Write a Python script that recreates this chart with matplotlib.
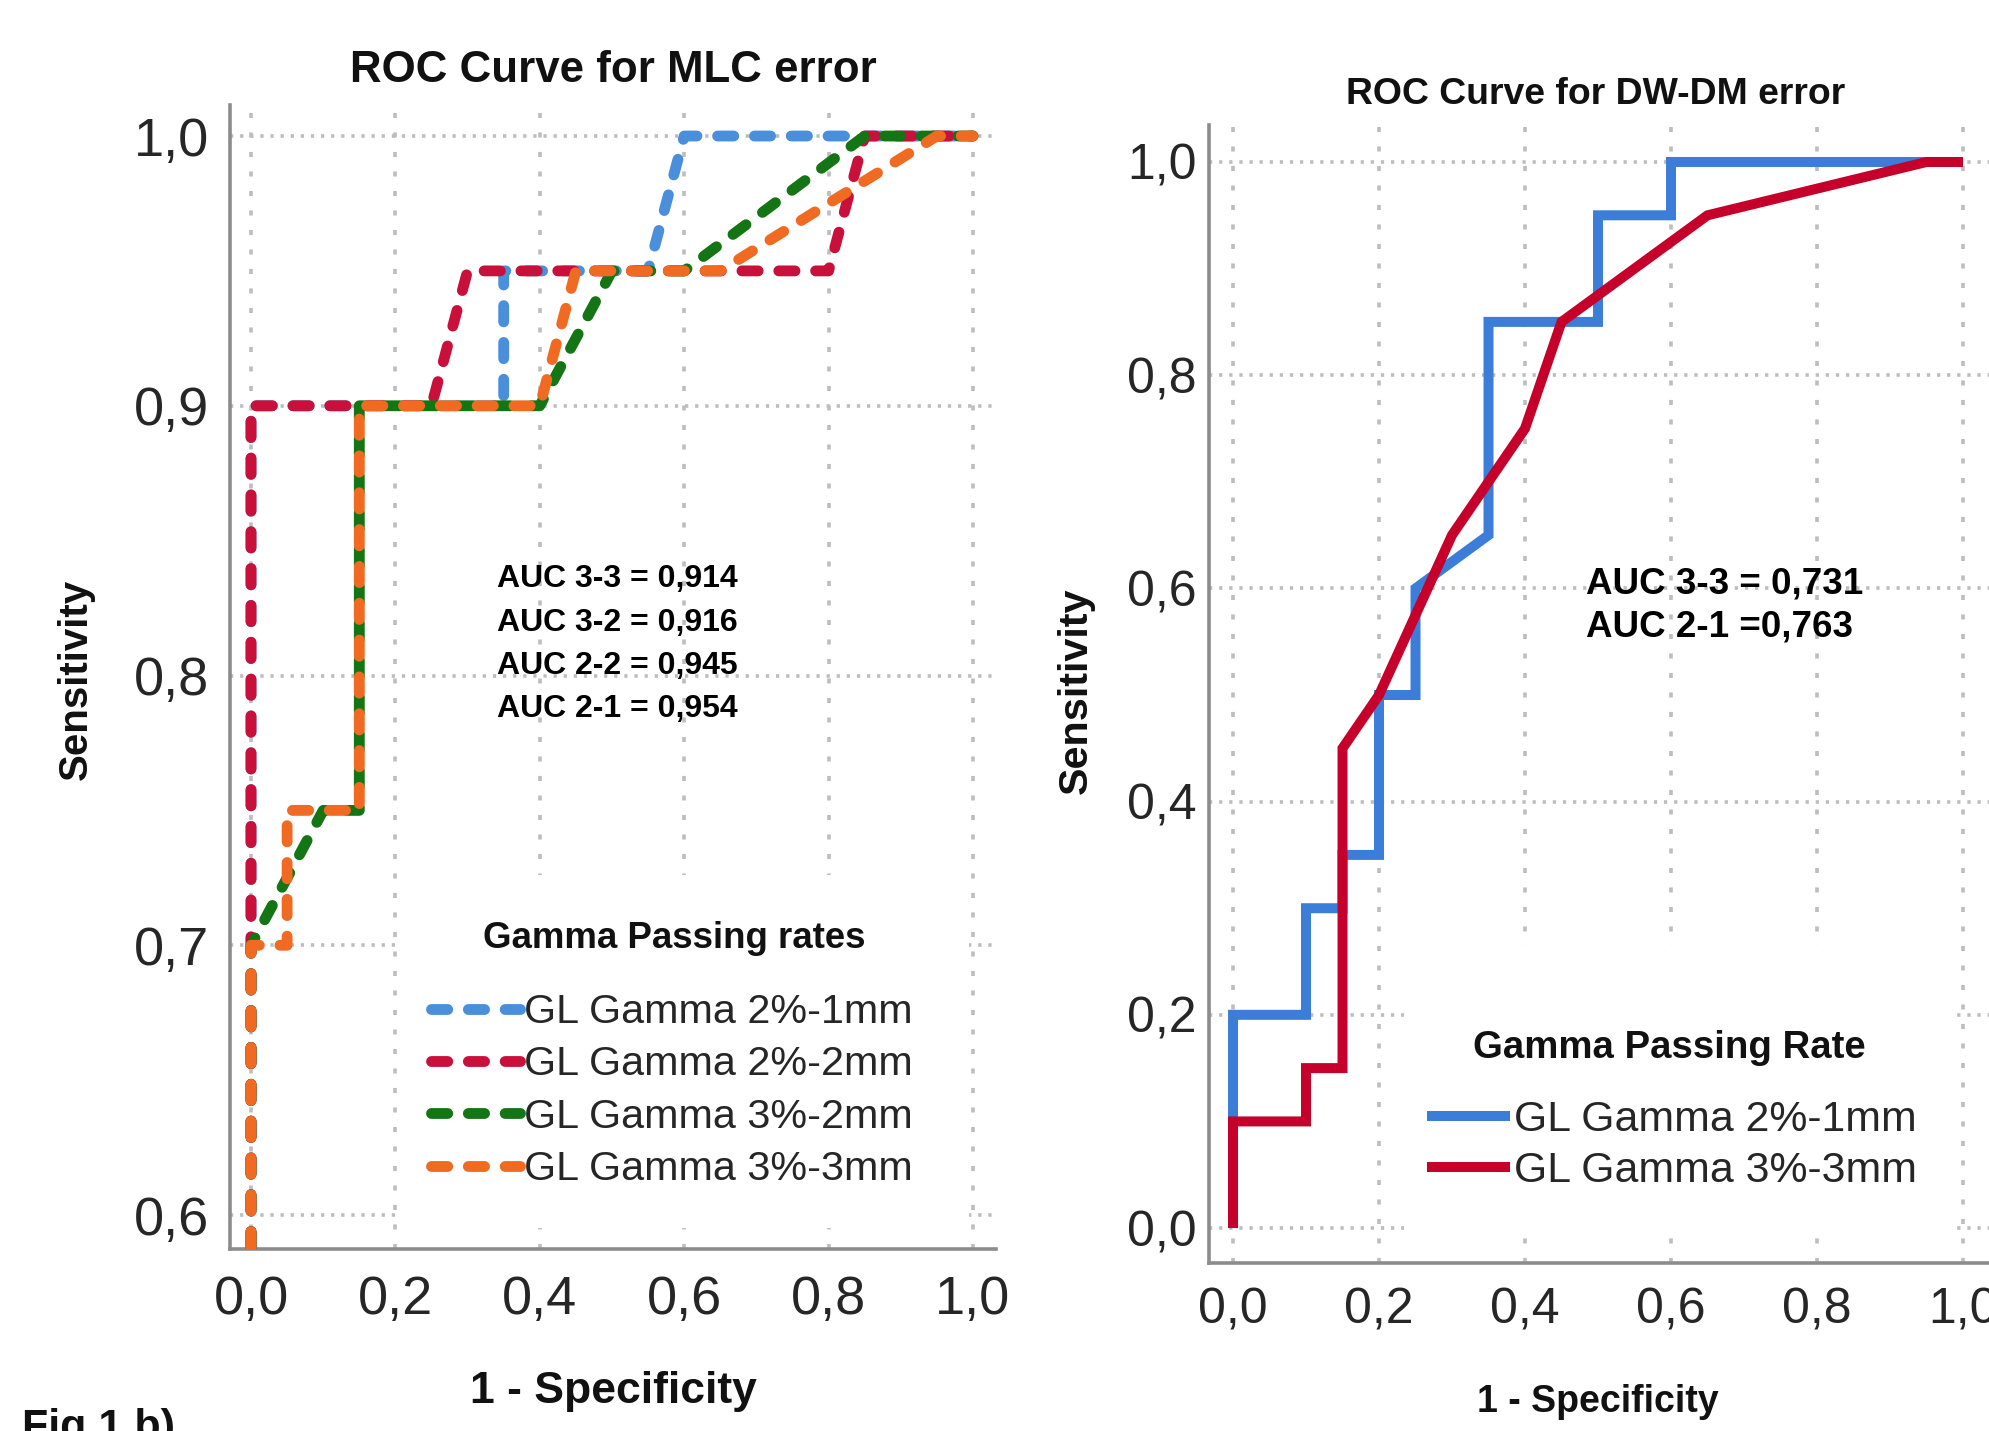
import matplotlib
matplotlib.use("Agg")
import matplotlib.pyplot as plt
from matplotlib.patches import Rectangle

# ---------------- data ----------------
# MLC error ROC curves (1 - specificity, sensitivity)
mlc_fpr_21 = [0, 0, 0.35, 0.35, 0.55, 0.60, 1.0]
mlc_tpr_21 = [0, 0.90, 0.90, 0.95, 0.95, 1.0, 1.0]

mlc_fpr_22 = [0, 0, 0.25, 0.30, 0.80, 0.85, 1.0]
mlc_tpr_22 = [0, 0.90, 0.90, 0.95, 0.95, 1.0, 1.0]

mlc_fpr_32 = [0, 0, 0.10, 0.15, 0.15, 0.40, 0.50, 0.60, 0.85, 1.0]
mlc_tpr_32 = [0, 0.70, 0.75, 0.75, 0.90, 0.90, 0.95, 0.95, 1.0, 1.0]

mlc_fpr_33 = [0, 0, 0.05, 0.05, 0.15, 0.15, 0.40, 0.45, 0.65, 0.95, 1.0]
mlc_tpr_33 = [0, 0.70, 0.70, 0.75, 0.75, 0.90, 0.90, 0.95, 0.95, 1.0, 1.0]

mlc_labels = ["GL Gamma 2%-1mm", "GL Gamma 2%-2mm", "GL Gamma 3%-2mm", "GL Gamma 3%-3mm"]
mlc_auc_text = "AUC 3-3 = 0,914\nAUC 3-2 = 0,916\nAUC 2-2 = 0,945\nAUC 2-1 = 0,954"

# DW-DM error ROC curves
dw_fpr_21 = [0, 0, 0.10, 0.10, 0.15, 0.15, 0.20, 0.20, 0.25, 0.25, 0.35, 0.35, 0.50, 0.50, 0.60, 0.60, 1.0]
dw_tpr_21 = [0, 0.20, 0.20, 0.30, 0.30, 0.35, 0.35, 0.50, 0.50, 0.60, 0.65, 0.85, 0.85, 0.95, 0.95, 1.0, 1.0]

dw_fpr_33 = [0, 0, 0.10, 0.10, 0.15, 0.15, 0.20, 0.30, 0.40, 0.45, 0.65, 0.95, 1.0]
dw_tpr_33 = [0, 0.10, 0.10, 0.15, 0.15, 0.45, 0.50, 0.65, 0.75, 0.85, 0.95, 1.0, 1.0]

dw_labels = ["GL Gamma 2%-1mm", "GL Gamma 3%-3mm"]
dw_auc_text = "AUC 3-3 = 0,731\nAUC 2-1 =0,763"

left_yticks = [0.6, 0.7, 0.8, 0.9, 1.0]
right_yticks = [0.0, 0.2, 0.4, 0.6, 0.8, 1.0]
xticks = [0.0, 0.2, 0.4, 0.6, 0.8, 1.0]

# ---------------- style ----------------
FAM = ['Liberation Sans', 'DejaVu Sans']
plt.rcParams['font.family'] = FAM

C_BLUE_L = '#4A8FDB'
C_RED_L = '#C8103A'
C_GREEN_L = '#137513'
C_ORANGE_L = '#F06A22'
C_BLUE_R = '#3B7DD8'
C_RED_R = '#C4002B'
GRID_C = '#bdbdbd'
SPINE_C = '#8c8c8c'
TXT_C = '#262626'


def comma(v):
    return f"{v:.1f}".replace('.', ',')


fig = plt.figure(figsize=(19.89, 14.31), dpi=100)
W, H = 1989.0, 1431.0


def px_axes(x0, y0, x1, y1):
    return fig.add_axes([x0 / W, 1 - y1 / H, (x1 - x0) / W, (y1 - y0) / H])


def style_axes(ax, yticks, xpad, ypad, tsize):
    for s in ('top', 'right'):
        ax.spines[s].set_visible(False)
    for s in ('left', 'bottom'):
        ax.spines[s].set_color(SPINE_C)
        ax.spines[s].set_linewidth(2.6)
    ax.set_xticks(xticks)
    ax.set_xticklabels([comma(v) for v in xticks])
    ax.set_yticks(yticks)
    ax.set_yticklabels([comma(v) for v in yticks])
    ax.tick_params(axis='x', length=0, pad=xpad, labelsize=tsize, labelcolor=TXT_C)
    ax.tick_params(axis='y', length=0, pad=ypad, labelsize=tsize, labelcolor=TXT_C)
    ax.set_axisbelow(True)
    ax.xaxis.grid(True, color=GRID_C, linewidth=2.6, linestyle=(0, (1.4, 4.0)))
    ax.yaxis.grid(True, color=GRID_C, linewidth=2.6, linestyle=(0, (0.9, 1.9)))


# ---------------- left chart ----------------
axL = px_axes(230, 105, 996, 1249)
axL.set_xlim(-0.0291, 1.0319)
axL.set_ylim(0.5874, 1.0115)
style_axes(axL, left_yticks, 19, 15, 39)

dash_kw = dict(linewidth=7.8, linestyle=(0, (1.5, 1.9)), dash_capstyle='round')
l1, = axL.plot(mlc_fpr_21, mlc_tpr_21, color=C_BLUE_L, zorder=3, **dash_kw)
l2, = axL.plot(mlc_fpr_22, mlc_tpr_22, color=C_RED_L, zorder=4, **dash_kw)
l3, = axL.plot(mlc_fpr_32, mlc_tpr_32, color=C_GREEN_L, zorder=5, **dash_kw)
l4, = axL.plot(mlc_fpr_33, mlc_tpr_33, color=C_ORANGE_L, zorder=6, **dash_kw)

# white legend background hiding the grid
axL.add_patch(Rectangle((0.205, 0.595), 0.79, 0.131, facecolor='white',
                        edgecolor='none', zorder=1.5))
axL.text(0.5796, 0.271, "Gamma Passing rates", transform=axL.transAxes,
         ha='center', va='center', fontsize=26.4, fontweight='bold', color='#111', zorder=7)
legL = axL.legend([l1, l2, l3, l4], mlc_labels, loc='upper left',
                  bbox_to_anchor=(0.2624, 0.2238), frameon=False, borderpad=0,
                  borderaxespad=0, handlelength=2.15, handletextpad=0.1,
                  labelspacing=0.35, prop={'family': FAM, 'size': 29.7})
for t in legL.get_texts():
    t.set_color(TXT_C)

axL.text(0.508, 0.8116, mlc_auc_text, ha='center', va='center', fontsize=23,
         fontweight='bold', color='black', linespacing=1.58, zorder=7)

fig.text(613 / W, 1 - 70 / H, "ROC Curve for MLC error", ha='center', va='center',
         fontsize=31.6, fontweight='bold', color='#111')
fig.text(76 / W, 1 - 679 / H, "Sensitivity", ha='center', va='center', rotation=90,
         fontsize=29, fontweight='bold', color='#111')
fig.text(613 / W, 1 - 1392 / H, "1 - Specificity", ha='center', va='center',
         fontsize=32, fontweight='bold', color='#111')

# ---------------- right chart ----------------
axR = px_axes(1209, 125, 1989, 1263)
axR.set_xlim(-0.0329, 1.0356)
axR.set_ylim(-0.0328, 1.0347)
style_axes(axR, right_yticks, 18, 9, 36)

solid_kw = dict(linewidth=7.2, solid_joinstyle='miter', solid_capstyle='butt')
r1, = axR.plot(dw_fpr_21, dw_tpr_21, color=C_BLUE_R, zorder=3, **solid_kw)
r2, = axR.plot(dw_fpr_33, dw_tpr_33, color=C_RED_R, zorder=4, **solid_kw)

axR.add_patch(Rectangle((0.234, -0.008), 0.756, 0.273, facecolor='white',
                        edgecolor='none', zorder=1.5))
axR.text(0.5897, 0.1889, "Gamma Passing Rate", transform=axR.transAxes,
         ha='center', va='center', fontsize=27.6, fontweight='bold', color='#111', zorder=7)
legR = axR.legend([r1, r2], dw_labels, loc='upper left',
                  bbox_to_anchor=(0.2795, 0.1432), frameon=False, borderpad=0,
                  borderaxespad=0, handlelength=1.94, handletextpad=0.1,
                  labelspacing=0.25, prop={'family': FAM, 'size': 30.8})
for t in legR.get_texts():
    t.set_color(TXT_C)

axR.text(0.4836, 0.5840, dw_auc_text, ha='left', va='center', fontsize=26.5,
         fontweight='bold', color='black', linespacing=1.31, zorder=7)

fig.text(1596 / W, 1 - 94 / H, "ROC Curve for DW-DM error", ha='center', va='center',
         fontsize=26.9, fontweight='bold', color='#111')
fig.text(1076 / W, 1 - 691 / H, "Sensitivity", ha='center', va='center', rotation=90,
         fontsize=29.8, fontweight='bold', color='#111')
fig.text(1598 / W, 1 - 1402 / H, "1 - Specificity", ha='center', va='center',
         fontsize=27, fontweight='bold', color='#111')

fig.text(22 / W, 1 - 1408 / H, "Fig 1 b)", ha='left', va='top', fontsize=31,
         fontweight='bold', color='#111')

fig.savefig("out.png", dpi=100, facecolor='white')
